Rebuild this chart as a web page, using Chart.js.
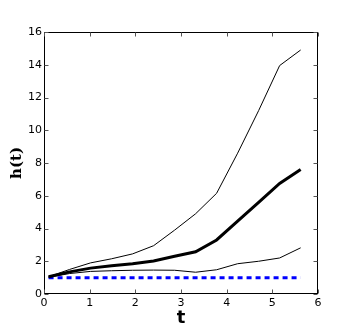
<!DOCTYPE html>
<html>
<head>
<meta charset="utf-8">
<script src="https://cdn.jsdelivr.net/npm/chart.js@4/dist/chart.umd.min.js"></script>
<style>
html,body{margin:0;padding:0;background:#fff;}
#wrap{width:354px;height:327px;position:relative;}
</style>
</head>
<body>
<div id="wrap"><canvas id="c" width="354" height="327"></canvas></div>
<script>
const tValues  = [0.1, 0.56, 1.02, 1.48, 1.94, 2.4, 2.86, 3.32, 3.78, 4.24, 4.7, 5.16, 5.62];
const upperH   = [1.05, 1.5, 1.9, 2.15, 2.45, 2.95, 3.9, 4.9, 6.15, 8.6, 11.2, 13.95, 14.9];
const meanH    = [1.05, 1.35, 1.58, 1.72, 1.85, 2.02, 2.3, 2.58, 3.3, 4.45, 5.6, 6.75, 7.6];
const lowerH   = [1.02, 1.25, 1.38, 1.42, 1.45, 1.46, 1.45, 1.33, 1.48, 1.85, 2.0, 2.2, 2.82];
const baseH    = [1, 1, 1, 1, 1, 1, 1, 1, 1, 1, 1, 1, 1];
const xTicks   = [0, 1, 2, 3, 4, 5, 6];
const yTicks   = [0, 2, 4, 6, 8, 10, 12, 14, 16];

const pts = ys => tValues.map((t, i) => ({x: t, y: ys[i]}));

const framePlugin = {
  id: 'frame',
  afterDatasetsDraw(chart) {
    const {ctx, chartArea: a, scales} = chart;
    ctx.save();
    ctx.strokeStyle = '#000';
    ctx.lineWidth = 1;
    const L = Math.round(a.left) + 0.5, R = Math.round(a.right) - 0.5;
    const T = Math.round(a.top) + 0.5, B = Math.round(a.bottom) - 0.5;
    ctx.strokeRect(L, T, R - L, B - T);
    ctx.strokeStyle = '#555';
    ctx.beginPath();
    const tl = 4;
    xTicks.forEach(v => {
      const px = Math.round(scales.x.getPixelForValue(v)) + 0.5;
      ctx.moveTo(px, B); ctx.lineTo(px, B - tl);
      ctx.moveTo(px, T); ctx.lineTo(px, T + tl);
    });
    yTicks.forEach(v => {
      const py = Math.round(scales.y.getPixelForValue(v)) + 0.5;
      ctx.moveTo(L, py); ctx.lineTo(L + tl, py);
      ctx.moveTo(R, py); ctx.lineTo(R - tl, py);
    });
    ctx.stroke();
    ctx.restore();
  }
};

new Chart(document.getElementById('c'), {
  type: 'line',
  data: {
    datasets: [
      {data: pts(upperH), borderColor: '#000', borderWidth: 1, pointRadius: 0, tension: 0, fill: false},
      {data: pts(meanH), borderColor: '#000', borderWidth: 3, pointRadius: 0, tension: 0, fill: false},
      {data: pts(lowerH), borderColor: '#000', borderWidth: 1, pointRadius: 0, tension: 0, fill: false},
      {data: pts(baseH), borderColor: '#0000ff', borderWidth: 3, borderDash: [5, 4], pointRadius: 0, tension: 0, fill: false}
    ]
  },
  options: {
    responsive: false,
    animation: false,
    events: [],
    layout: {padding: {left: 0, top: 32, right: 36, bottom: 0}},
    plugins: {legend: {display: false}, tooltip: {enabled: false}},
    scales: {
      x: {
        type: 'linear', min: 0, max: 6,
        afterFit(s) { s.height = 33; },
        afterBuildTicks(s) { s.ticks = xTicks.map(v => ({value: v})); },
        grid: {display: false, drawTicks: false},
        border: {display: false},
        ticks: {padding: 3, color: '#000', font: {family: 'DejaVu Sans', size: 11}, maxRotation: 0, autoSkip: false},
        title: {display: true, text: 't', color: '#000', font: {family: 'DejaVu Sans', weight: 'bold', size: 18, lineHeight: 1}, padding: {top: 0, bottom: 0}}
      },
      y: {
        type: 'linear', min: 0, max: 16,
        afterFit(s) { s.width = 44; },
        afterBuildTicks(s) { s.ticks = yTicks.map(v => ({value: v})); },
        grid: {display: false, drawTicks: false},
        border: {display: false},
        ticks: {padding: 2, color: '#000', font: {family: 'DejaVu Sans', size: 11}, autoSkip: false},
        title: {display: true, text: 'h(t)', color: '#000', font: {family: 'DejaVu Serif', weight: 'bold', size: 15, lineHeight: 1}, padding: {top: 10, bottom: 0}}
      }
    }
  },
  plugins: [framePlugin]
});
</script>
</body>
</html>
